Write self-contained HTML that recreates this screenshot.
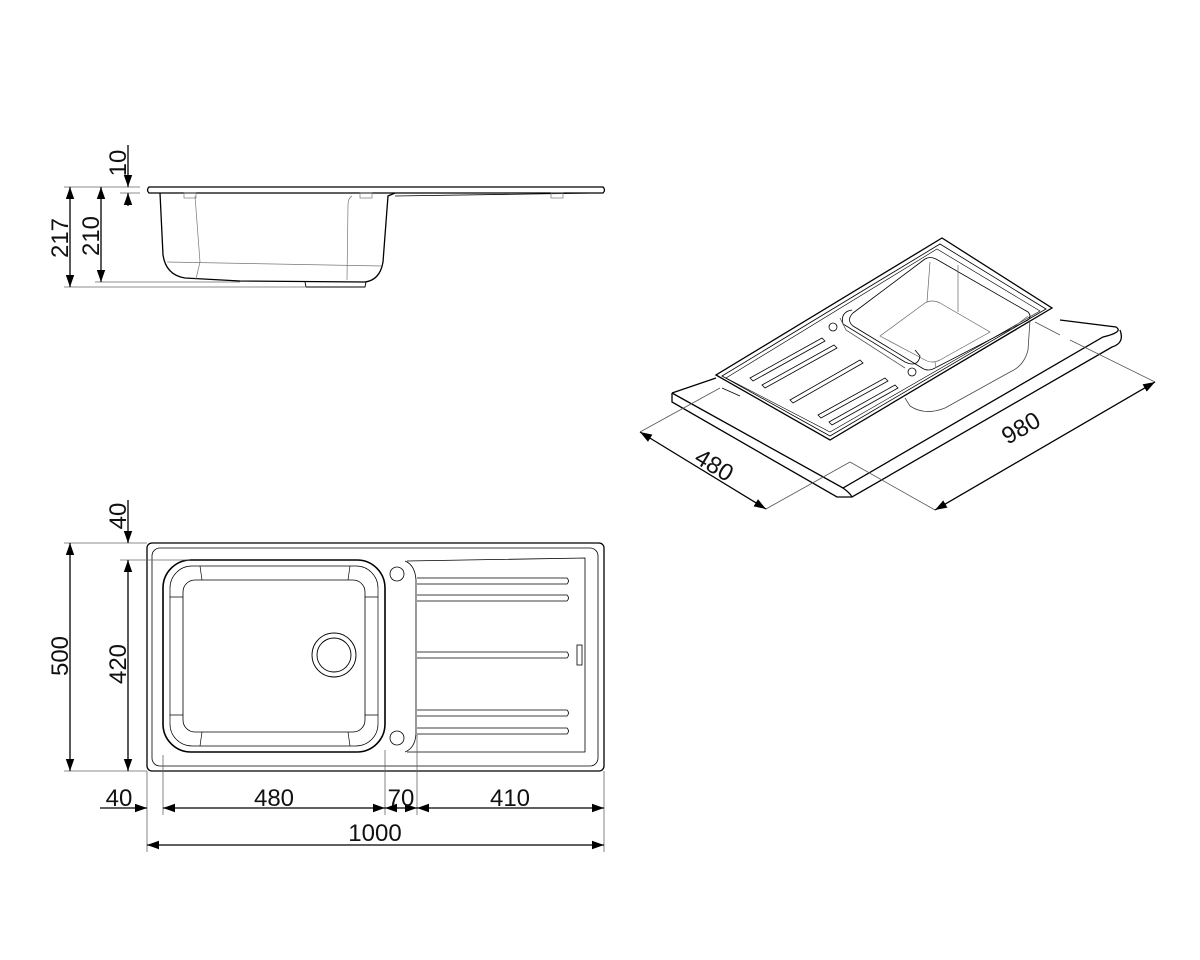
<!DOCTYPE html>
<html><head><meta charset="utf-8"><style>
html,body{margin:0;padding:0;background:#fff;}
svg{display:block}
text{font-family:"Liberation Sans",sans-serif;font-size:24px;fill:#111}
</style></head><body>
<svg width="1200" height="960" viewBox="0 0 1200 960" xmlns="http://www.w3.org/2000/svg">
<defs>
<marker id="a" viewBox="0 0 10 10" refX="10" refY="5" markerWidth="12" markerHeight="12" markerUnits="userSpaceOnUse" orient="auto-start-reverse"><path d="M0,1.5 L10,5 L0,8.5z" fill="#000"/></marker>
</defs>
<g fill="none" stroke="#000" stroke-width="1.3">
<!-- SIDE VIEW -->
<path d="M149,187 L603,187 Q606,190 603,193 L149,193 Q146,190 149,187z"/>
<path d="M160,193 L163,255 Q166,275 185,278 L240,281 L365,282 Q380,280 383,262 L388,196 L395,193"/>
<path d="M395,196 L600,193" stroke-width="0.8"/>
<path d="M305,282 L306,287 L365,287 L366,282" stroke-width="0.9"/>
<g stroke="#777" stroke-width="0.7">
<path d="M195,196 L200,262 L196,279"/><path d="M352,196 Q348,198 348,205 L347,280"/>
<path d="M167,262 L382,266"/>
<rect x="184" y="193" width="12" height="5"/><rect x="360" y="193" width="12" height="5"/><rect x="551" y="193" width="12" height="5"/>
</g>
<g stroke="#666" stroke-width="0.8">
<line x1="64" y1="187" x2="140" y2="187"/><line x1="64" y1="287" x2="305" y2="287"/>
<line x1="95" y1="282" x2="240" y2="282"/><line x1="120" y1="193" x2="140" y2="193"/>
</g>
<line x1="70" y1="187" x2="70" y2="287" marker-start="url(#a)" marker-end="url(#a)"/>
<line x1="101" y1="187" x2="101" y2="282" marker-start="url(#a)" marker-end="url(#a)"/>
<line x1="128" y1="145" x2="128" y2="187" marker-end="url(#a)"/>
<line x1="128" y1="206" x2="128" y2="193" marker-end="url(#a)"/>

<!-- PLAN VIEW -->
<rect x="147" y="543" width="457" height="228" rx="5"/>
<rect x="152" y="548" width="446" height="218" rx="8" stroke-width="0.8"/>
<rect x="163" y="560" width="222" height="192" rx="28" stroke-width="1.6"/>
<rect x="170" y="566" width="208" height="180" rx="22" stroke-width="0.7"/>
<rect x="183" y="580" width="182" height="152" rx="12" stroke-width="0.8"/>
<g stroke-width="0.7">
<path d="M200,566 L202,580 M350,566 L348,580 M170,597 L183,597 M378,597 L365,597 M170,715 L183,715 M378,715 L365,715 M200,746 L202,732 M350,746 L348,732"/>
</g>
<circle cx="334" cy="655" r="22" stroke-width="0.9"/><circle cx="334" cy="655" r="17" stroke-width="0.9"/>
<circle cx="397" cy="574" r="7" stroke-width="0.8"/><circle cx="397" cy="738" r="7" stroke-width="0.8"/>
<path d="M405,561 Q415,565 416,580 L416,734 Q415,748 405,752" stroke-width="0.8"/>
<path d="M407,561 L585,558 L585,752 L407,752" stroke-width="0.8"/>
<g stroke-width="0.8">
<path d="M417,578 L567,578 Q570,581 567,584 L417,584"/>
<path d="M417,595 L567,595 Q570,598 567,601 L417,601"/>
<path d="M417,652 L567,652 Q570,655 567,658 L417,658"/>
<path d="M417,710 L567,710 Q570,713 567,716 L417,716"/>
<path d="M417,728 L567,728 Q570,731 567,734 L417,734"/>
<rect x="577" y="645" width="5" height="20"/>
</g>
<g stroke="#666" stroke-width="0.8">
<line x1="64" y1="543" x2="147" y2="543"/><line x1="64" y1="771" x2="147" y2="771"/>
<line x1="120" y1="560" x2="190" y2="560"/>
<line x1="147" y1="771" x2="147" y2="852"/><line x1="604" y1="771" x2="604" y2="852"/>
<line x1="163" y1="755" x2="163" y2="815"/><line x1="385" y1="750" x2="385" y2="815"/><line x1="417" y1="735" x2="417" y2="815"/>
</g>
<line x1="70" y1="543" x2="70" y2="771" marker-start="url(#a)" marker-end="url(#a)"/>
<line x1="128" y1="560" x2="128" y2="771" marker-start="url(#a)" marker-end="url(#a)"/>
<line x1="128" y1="500" x2="128" y2="543" marker-end="url(#a)"/>
<line x1="100" y1="808" x2="147" y2="808" marker-end="url(#a)"/>
<line x1="163" y1="808" x2="385" y2="808" marker-start="url(#a)" marker-end="url(#a)"/>
<line x1="385" y1="808" x2="417" y2="808" marker-start="url(#a)" marker-end="url(#a)"/>
<line x1="417" y1="808" x2="604" y2="808" marker-start="url(#a)" marker-end="url(#a)"/>
<line x1="147" y1="845" x2="604" y2="845" marker-start="url(#a)" marker-end="url(#a)"/>

<!-- ISOMETRIC -->
<path d="M672,393 L843,488 L1103,337 Q1124,332 1116,327 L1060,320"/>
<path d="M672,393 L672,402 L837,497 L852,497 L1112,347 Q1125,343 1120,330"/>
<path d="M843,488 Q850,493 852,497"/>
<path d="M672,393 L716,378"/>
<path d="M722,388 L740,396" stroke-width="0.8"/>
<path d="M716,375 L830,440 L1052,308 L942,238 Z"/>
<path d="M722,376 L830,436 L1046,309 L940,244 Z" stroke-width="0.8"/>
<path d="M726,378 L830,432 L1040,311 L937,249 Z" stroke-width="0.6"/>
<g stroke-width="0.8">
<!-- bowl opening -->
<path d="M853,313 L925,259 Q930,256 936,259 L1028,312 Q1032,316 1028,320 L935,368 Q928,372 922,368 L853,326 Q846,320 853,313 Z"/>
<!-- bowl bottom -->
<path d="M880,336 L925,303 Q932,299 940,303 L990,332 L940,360 Q932,364 925,360 Z" stroke="#666" stroke-width="0.7"/>
<path d="M930,262 L927,302 M1028,316 L1010,330 M936,368 L935,362 M958,265 L958,312" stroke="#666" stroke-width="0.7"/>
<!-- drain ledge -->
<path d="M852,310 Q840,312 843,324 L905,362 Q918,368 920,356 L915,350"/>
<path d="M840,318 L846,330 L905,368" stroke="#555"/>
<!-- bowl below rim -->
<path d="M1030,320 L1028,350 Q1024,366 1010,372 L945,408 Q925,416 910,406 L905,398" stroke="#444"/>
<path d="M1035,322 L1060,335" stroke="#555"/>
</g>
<g stroke-width="0.8">
<path d="M750,378 L822,338 L825,341 L753,381z"/>
<path d="M762,385 L834,345 L837,348 L765,388z"/>
<path d="M790,400 L860,360 L863,363 L793,403z"/>
<path d="M818,415 L885,378 L888,381 L821,418z"/>
<path d="M829,422 L895,385 L898,388 L832,425z"/>
<circle cx="833" cy="327" r="4"/><circle cx="912" cy="372" r="4"/>
</g>
<g stroke="#555" stroke-width="0.8">
<line x1="640" y1="432" x2="720" y2="388"/><line x1="766" y1="509" x2="850" y2="462"/>
<line x1="850" y1="462" x2="935" y2="510"/><line x1="1070" y1="340" x2="1155" y2="382"/>
</g>
<line x1="640" y1="432" x2="766" y2="509" marker-start="url(#a)" marker-end="url(#a)"/>
<line x1="935" y1="510" x2="1155" y2="382" marker-start="url(#a)" marker-end="url(#a)"/>
</g>
<!-- TEXT -->
<text transform="translate(126,163) rotate(-90)" text-anchor="middle">10</text>
<text transform="translate(68,238) rotate(-90)" text-anchor="middle">217</text>
<text transform="translate(99,236) rotate(-90)" text-anchor="middle">210</text>
<text transform="translate(126,516) rotate(-90)" text-anchor="middle">40</text>
<text transform="translate(68,656) rotate(-90)" text-anchor="middle">500</text>
<text transform="translate(126,664) rotate(-90)" text-anchor="middle">420</text>
<text x="119" y="806" text-anchor="middle">40</text>
<text x="274" y="806" text-anchor="middle">480</text>
<text x="401" y="806" text-anchor="middle">70</text>
<text x="510" y="806" text-anchor="middle">410</text>
<text x="375" y="841" text-anchor="middle">1000</text>
<text transform="translate(710,472) rotate(31)" text-anchor="middle">480</text>
<text transform="translate(1025,435) rotate(-30)" text-anchor="middle">980</text>
</svg>
</body></html>
